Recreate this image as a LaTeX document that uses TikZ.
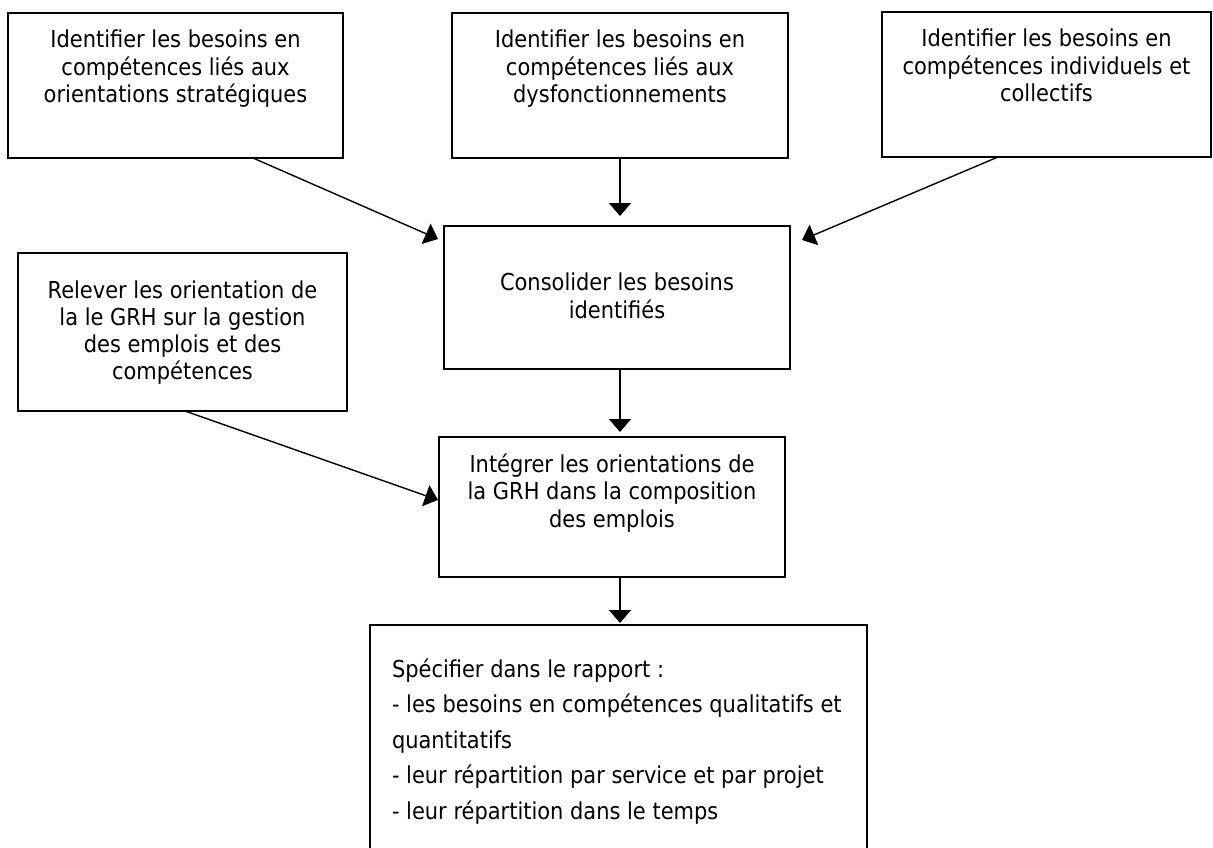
\documentclass[tikz,border=0pt]{standalone}
\usepackage{fontspec}
\setmainfont{DejaVu Sans Condensed}
\usetikzlibrary{arrows.meta}
\newcommand\mybox[5]{\parbox[t][#2][t]{#1}{\fontsize{23.3pt}{#4}\selectfont\centering\rule{0pt}{#3}#5}}
\begin{document}
\begin{tikzpicture}[x=1pt,y=-1pt,
  box/.style={draw, line width=1.6pt, inner sep=0pt, outer sep=0pt, anchor=north west},
  arr/.style={-{Triangle[length=13pt,width=22pt]}, line width=1.4pt}]
\useasboundingbox (0,0) rectangle (1213,848);
\clip (0,0) rectangle (1213,848);
\node[box] (A) at (8,13) {\mybox{335pt}{145pt}{35pt}{27.5pt}{Identifier les besoins en\\compétences liés aux\\orientations stratégiques}};
\node[box] (B) at (452,13) {\mybox{336pt}{145pt}{35pt}{27.5pt}{Identifier les besoins en\\compétences liés aux\\dysfonctionnements}};
\node[box] (C) at (882,12) {\mybox{329pt}{145pt}{35pt}{27.5pt}{Identifier les besoins en\\compétences individuels et\\collectifs}};
\node[box] (D) at (444,226) {\mybox{346pt}{143pt}{64pt}{28pt}{Consolider les besoins\\identifiés}};
\node[box] (E) at (18,253) {\mybox{329pt}{158pt}{45pt}{27pt}{Relever les orientation de\\la le GRH sur la gestion\\des emplois et des\\compétences}};
\node[box] (F) at (439,437) {\mybox{346pt}{140pt}{35pt}{27.5pt}{Intégrer les orientations de\\la GRH dans la composition\\des emplois}};
\node[box] (G) at (370,625) {\parbox[t][240pt][t]{497pt}{\fontsize{23.3pt}{35.5pt}\selectfont\raggedright\leftskip=22pt \rule{0pt}{52pt}Spécifier dans le rapport :\\- les besoins en compétences qualitatifs et\\quantitatifs\\- leur répartition par service et par projet\\- leur répartition dans le temps}};
\draw[arr] ([xshift=77.5pt]A.south) -- ([xshift=-6pt,yshift=-13pt]D.north west);
\draw[arr] ([xshift=-48.5pt]C.south) -- ([xshift=12pt,yshift=-14pt]D.north east);
\draw[arr, shorten >=10pt] (B.south) -- (B.south |- D.north);
\draw[arr, shorten >=5pt] (B.south |- D.south) -- (B.south |- F.north);
\draw[arr, shorten >=2pt] (B.south |- F.south) -- (B.south |- G.north);
\draw[arr] ([xshift=2.5pt]E.south) -- ([xshift=-1pt,yshift=7pt]F.west);
\end{tikzpicture}
\end{document}
